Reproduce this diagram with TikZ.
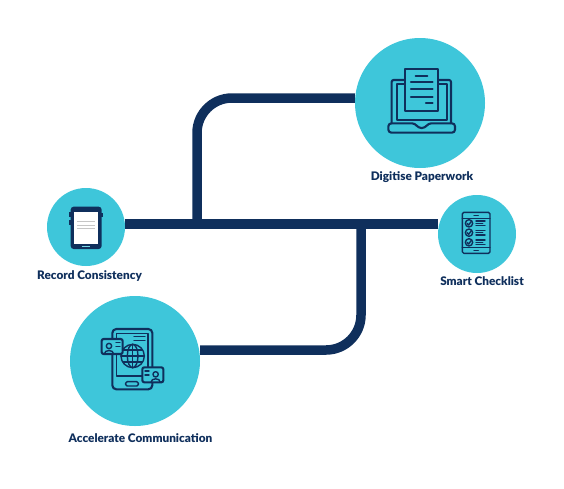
\documentclass[tikz,border=0pt]{standalone}
\usepackage{fontspec}
\setmainfont[BoldFont={Lato Black}]{Lato}
\usetikzlibrary{positioning}
\definecolor{navy}{HTML}{0F2F5C}
\definecolor{teal}{HTML}{3EC6DA}
\tikzset{
  hub/.style={circle,fill=teal,inner sep=0pt},
  capt/.style={font=\bfseries\fontsize{11.8}{13}\selectfont,text=navy,inner sep=0pt},
  pipe/.style={draw=navy,line width=9.5pt},
  ico/.style={draw=navy,line width=2.1pt,line cap=round,line join=round},
  icofine/.style={draw=navy,line width=1.4pt,line cap=round,line join=round}
}
\begin{document}
\begin{tikzpicture}[x=1pt,y=-1pt]
\useasboundingbox (0,0) rectangle (564,488);
\node[hub,minimum size=130pt] (dig) at (420,103) {};
\node[hub,minimum size=78pt] (rec) at (86,227) {};
\node[hub,minimum size=78pt] (sma) at (477,234) {};
\node[hub,minimum size=130pt] (acc) at (135,361) {};
\node[capt] (digl) at (422,177) {Digitise Paperwork};
\node[capt] (recl) at (89.5,276) {Record Consistency};
\node[capt] (smal) at (482,281) {Smart Checklist};
\node[capt] (accl) at (140.5,438) {Accelerate Communication};
% connectors
\coordinate (j1) at (197,224);
\coordinate (j2) at (361,224);
\coordinate (t1) at (197,98);
\coordinate (b1) at (361,350);
\draw[pipe] (rec.east |- j1)--(sma.west |- j1);
\draw[pipe,rounded corners=35pt] (j1)--(t1)--(dig.west |- t1);
\draw[pipe,rounded corners=35pt] (j2)--(b1)--(acc.east |- b1);
% laptop
\begin{scope}[shift={(350,30)},x=0.3333pt,y=-0.3333pt]
\draw[ico,rounded corners=2pt] (125,280)--(125,150)--(303,150)--(303,280);
\draw[ico] (140,270)--(140,163)--(290,163)--(290,270)--cycle;
\draw[ico,rounded corners=3pt] (115,280)--(195,280)--(205,294)--(225,294)--(235,280)--(315,280)--(315,308)--(115,308)--cycle;
\draw[ico,fill=teal] (165,117) rectangle (265,242);
\draw[ico] (197,137)--(232,137);
\foreach \y in {157,178,200} {\draw[ico] (183,\y)--(248,\y);}
\draw[ico] (228,220)--(248,220);
\end{scope}
% tablet
\begin{scope}[shift={(30,180)},x=0.3333pt,y=-0.3333pt]
\fill[navy] (117,95) rectangle (123,110);
\fill[navy] (117,120) rectangle (123,135);
\fill[navy] (214,98) rectangle (219,110);
\fill[navy,rounded corners=3pt] (122,80) rectangle (215,207);
\fill[white] (132,97) rectangle (205,192);
\foreach \y in {125,135,145} {\draw[gray!45,line width=0.6pt] (142,\y)--(195,\y);}
\draw[teal!70,line width=0.7pt] (155,200)--(180,200);
\end{scope}
% checklist
\begin{scope}[shift={(430,190)},x=0.3333pt,y=-0.3333pt]
\draw[icofine,rounded corners=1.5pt] (97,67) rectangle (180,190);
\draw[icofine] (97,85)--(180,85);
\draw[icofine] (97,172)--(180,172);
\draw[icofine] (132,76)--(145,76);
\draw[icofine] (132,181)--(145,181);
\foreach \y in {100,128,157} {
  \draw[icofine] (117,\y) circle (11);
  \draw[icofine] (111,\y)--(116,\y+5)--(124,\y-6);
  \draw[icofine] (138,\y-7)--(165,\y-7);
  \draw[icofine] (138,\y)--(158,\y);
  \draw[icofine] (138,\y+7)--(165,\y+7);
}
\end{scope}
% phone with globe and cards
\begin{scope}[shift={(60,290)},x=0.3333pt,y=-0.3333pt]
\draw[ico,rounded corners=4pt] (157,117) rectangle (277,298);
\draw[icofine] (170,258)--(170,130)--(264,130)--(264,258)--cycle;
\draw[icofine,rounded corners=1.5pt] (197,275) rectangle (235,288);
\draw[icofine] (222,140)--(255,140);
\draw[icofine] (222,152)--(255,152);
\draw[icofine] (218,198) circle (35);
\draw[icofine] (218,198) ellipse (16 and 35);
\draw[icofine] (218,163)--(218,233);
\draw[icofine] (183,198)--(253,198);
\draw[icofine] (189,180)--(247,180);
\draw[icofine] (189,216)--(247,216);
\draw[ico,fill=teal,rounded corners=2pt] (125,147) rectangle (188,192);
\draw[icofine] (147,168) circle (8);
\draw[icofine] (133,192)..controls (133,178) and (161,178)..(161,192);
\draw[icofine] (168,158)--(180,158);
\draw[icofine] (168,170)--(180,170);
\draw[ico,fill=teal,rounded corners=2pt] (247,232) rectangle (310,277);
\draw[icofine] (287,253) circle (8);
\draw[icofine] (273,277)..controls (273,263) and (301,263)..(301,277);
\draw[icofine] (255,243)--(267,243);
\draw[icofine] (255,255)--(267,255);
\end{scope}
\end{tikzpicture}
\end{document}
